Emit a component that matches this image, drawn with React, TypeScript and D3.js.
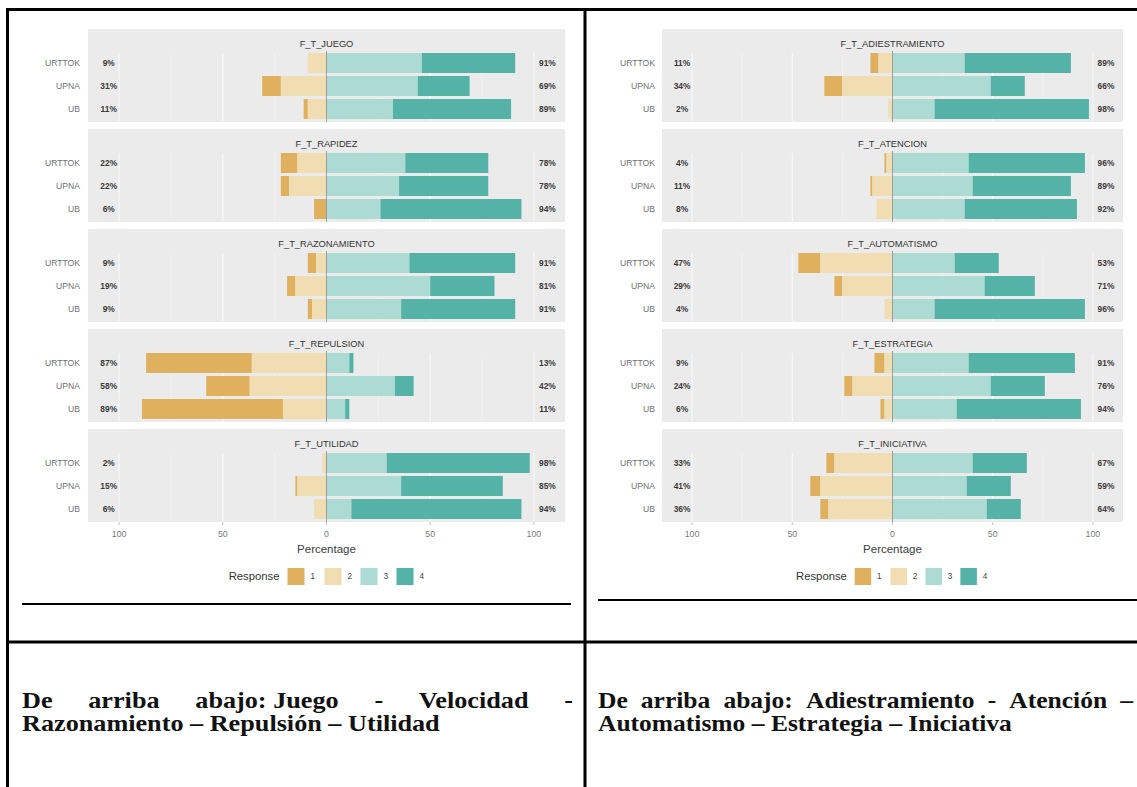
import React, { useEffect, useRef } from "react";
import * as d3 from "d3";

// ---------- DATA ----------
const groups = ["URTTOK", "UPNA", "UB"];
const responses = ["1", "2", "3", "4"];
const responseColors = ["#DFB15F", "#F0DDB2", "#ACDBD4", "#54B2A6"];
const tickValues = [-100, -50, 0, 50, 100];
const tickLabels = ["100", "50", "0", "50", "100"];

// left table cell
const leftFacets = ["F_T_JUEGO", "F_T_RAPIDEZ", "F_T_RAZONAMIENTO", "F_T_REPULSION", "F_T_UTILIDAD"];
// each row: [resp1, resp2, resp3, resp4] for URTTOK, UPNA, UB
const fJuego = [[0, 9, 46, 45], [9, 22, 44, 25], [2, 9, 32, 57]];
const fRapidez = [[8, 14, 38, 40], [4, 18, 35, 43], [6, 0, 26, 68]];
const fRazonamiento = [[4, 5, 40, 51], [4, 15, 50, 31], [2, 7, 36, 55]];
const fRepulsion = [[51, 36, 11, 2], [21, 37, 33, 9], [68, 21, 9, 2]];
const fUtilidad = [[0, 2, 29, 69], [1, 14, 36, 49], [0, 6, 12, 82]];

// right table cell
const rightFacets = ["F_T_ADIESTRAMIENTO", "F_T_ATENCION", "F_T_AUTOMATISMO", "F_T_ESTRATEGIA", "F_T_INICIATIVA"];
const fAdiestramiento = [[4, 7, 36, 53], [9, 25, 49, 17], [0, 2, 21, 77]];
const fAtencion = [[1, 3, 38, 58], [1, 10, 40, 49], [0, 8, 36, 56]];
const fAutomatismo = [[11, 36, 31, 22], [4, 25, 46, 25], [0, 4, 21, 75]];
const fEstrategia = [[5, 4, 38, 53], [4, 20, 49, 27], [2, 4, 32, 62]];
const fIniciativa = [[4, 29, 40, 27], [5, 36, 37, 22], [4, 32, 47, 17]];

const leftValues = [fJuego, fRapidez, fRazonamiento, fRepulsion, fUtilidad];
const rightValues = [fAdiestramiento, fAtencion, fAutomatismo, fEstrategia, fIniciativa];

// caption tokens (a token is kept together when justifying)
const leftCaption1 = ["De", "arriba", "abajo: Juego", "-", "Velocidad", "-"];
const leftCaption2 = "Razonamiento – Repulsión – Utilidad";
const rightCaption1 = ["De", "arriba", "abajo:", "Adiestramiento", "-", "Atención", "–"];
const rightCaption2 = "Automatismo – Estrategia – Iniciativa";

// ---------- LAYOUT ----------
const W = 1137;
const H = 787;
const SANS = "'Liberation Sans', Arial, sans-serif";
const SERIF = "'Liberation Serif', 'DejaVu Serif', serif";
const CAP_SIZE = 23;

const leftCfg = { x0: 88, x1: 565, labelEnd: 80, lineY: 604, lineX0: 22, lineX1: 571, legendScale: 1 };
const rightCfg = { x0: 662, x1: 1123, labelEnd: 655, lineY: 600, lineX0: 598, lineX1: 1137, legendScale: 0.97 };

const facetTop0 = 29;
const facetStep = 100;
const facetH = 93;
const rowOffset0 = 34;
const rowStep = 23;
const barH = 20;

function LikertChart({ cfg, facets, values }: any) {
  const x = d3.scaleLinear().domain([-115, 115]).range([cfg.x0, cfg.x1]);
  const cx = x(0);
  const rowY = d3
    .scaleOrdinal<string, number>()
    .domain(groups)
    .range(groups.map((_, i) => rowOffset0 + i * rowStep));
  const major = [-100, -50, 0, 50, 100];
  const minor = [-75, -25, 25, 75];
  const lastBottom = facetTop0 + (facets.length - 1) * facetStep + facetH;
  const ls = cfg.legendScale;
  const keyOffsets = [-39, -2, 34, 70].map((d) => d * ls);

  return (
    <g>
      {facets.map((name: string, fi: number) => {
        const top = facetTop0 + fi * facetStep;
        const data = values[fi];
        return (
          <g key={name}>
            <rect x={cfg.x0} y={top} width={cfg.x1 - cfg.x0} height={facetH} fill="#EBEBEB" />
            {minor.map((v) => (
              <line key={"mi" + v} x1={x(v)} x2={x(v)} y1={top + 24} y2={top + facetH} stroke="#F5F5F5" strokeWidth={0.6} />
            ))}
            {major.map((v) => (
              <line key={"ma" + v} x1={x(v)} x2={x(v)} y1={top + 24} y2={top + facetH} stroke="#F8F8F8" strokeWidth={1.1} />
            ))}
            <text x={cx} y={top + 17.5} textAnchor="middle" fontFamily={SANS} fontSize={9.3} fill="#333">
              {name}
            </text>
            {groups.map((g, gi) => {
              const v = data[gi];
              const yc = top + (rowY(g) as number);
              const segs = [
                { a: -(v[0] + v[1]), b: -v[1], c: 0 },
                { a: -v[1], b: 0, c: 1 },
                { a: 0, b: v[2], c: 2 },
                { a: v[2], b: v[2] + v[3], c: 3 },
              ];
              return (
                <g key={g}>
                  <text x={cfg.labelEnd} y={yc + 3} textAnchor="end" fontFamily={SANS} fontSize={8.6} fill="#6f6f6f">
                    {g}
                  </text>
                  {segs.map((s) =>
                    s.b - s.a > 0 ? (
                      <rect key={s.c} x={x(s.a)} y={yc - barH / 2} width={x(s.b) - x(s.a)} height={barH} fill={responseColors[s.c]} />
                    ) : null
                  )}
                  <text x={x(-105)} y={yc + 3} textAnchor="middle" fontFamily={SANS} fontSize={8.4} fontWeight="bold" fill="#3a3a3a">
                    {v[0] + v[1] + "%"}
                  </text>
                  <text x={x(106.5)} y={yc + 3} textAnchor="middle" fontFamily={SANS} fontSize={8.4} fontWeight="bold" fill="#3a3a3a">
                    {v[2] + v[3] + "%"}
                  </text>
                </g>
              );
            })}
            <line x1={cx} x2={cx} y1={top + 22} y2={top + facetH} stroke="#8a8a8a" strokeWidth={0.8} />
          </g>
        );
      })}
      {/* x axis */}
      {tickValues.map((t, i) => (
        <g key={"t" + i}>
          <line x1={x(t)} x2={x(t)} y1={lastBottom} y2={lastBottom + 3} stroke="#999" strokeWidth={0.6} />
          <text x={x(t)} y={lastBottom + 14.5} textAnchor="middle" fontFamily={SANS} fontSize={8.8} fill="#7a7a7a">
            {tickLabels[i]}
          </text>
        </g>
      ))}
      <text x={cx} y={lastBottom + 31} textAnchor="middle" fontFamily={SANS} fontSize={11.5} fill="#3d3d3d">
        Percentage
      </text>
      {/* legend */}
      <text x={cx - 47 * ls} y={576 + 4} textAnchor="end" fontFamily={SANS} fontSize={11.3} fill="#333">
        Response
      </text>
      {responses.map((r, i) => (
        <g key={"lg" + r}>
          <rect x={cx + keyOffsets[i]} y={568} width={17 * ls} height={17} fill={responseColors[i]} />
          <text x={cx + keyOffsets[i] + 23 * ls} y={576 + 3} textAnchor="start" fontFamily={SANS} fontSize={8.2} fill="#444">
            {r}
          </text>
        </g>
      ))}
      {/* underline */}
      <line x1={cfg.lineX0} x2={cfg.lineX1} y1={cfg.lineY} y2={cfg.lineY} stroke="#000" strokeWidth={2} />
    </g>
  );
}

// draws a two-line justified caption paragraph; the horizontal glyph scale is
// chosen so that the last (unjustified) line reaches `line2End`.
function drawCaption(g: any, tokens1: string[], line2: string, x0: number, x1: number, line2End: number, y1: number, y2: number) {
  const mk = (t: string) =>
    g
      .append("text")
      .attr("font-family", SERIF)
      .attr("font-size", CAP_SIZE)
      .attr("font-weight", "bold")
      .attr("fill", "#111")
      .text(t);
  const l2 = mk(line2);
  const w2 = (l2.node() as SVGTextElement).getComputedTextLength();
  const s = (line2End - x0) / w2;
  l2.attr("transform", `translate(${x0},${y2}) scale(${s},1)`);

  const nodes = tokens1.map((t) => mk(t));
  const widths = nodes.map((n: any) => (n.node() as SVGTextElement).getComputedTextLength() * s);
  const total = d3.sum(widths);
  const gap = (x1 - x0 - total) / (tokens1.length - 1);
  let cur = x0;
  nodes.forEach((n: any, i: number) => {
    n.attr("transform", `translate(${cur},${y1}) scale(${s},1)`);
    cur += widths[i] + gap;
  });
}

export default function App() {
  const capRef = useRef<SVGGElement>(null);
  useEffect(() => {
    const g = d3.select(capRef.current);
    g.selectAll("*").remove();
    drawCaption(g, leftCaption1, leftCaption2, 22, 573, 440, 708, 731);
    drawCaption(g, rightCaption1, rightCaption2, 598, 1133, 1012, 708, 731);
  }, []);

  return (
    <svg
      width={W}
      height={H}
      viewBox={`0 0 ${W} ${H}`}
      style={{ position: "absolute", left: 0, top: 0, display: "block", background: "#fff" }}
    >
      <rect x={0} y={0} width={W} height={H} fill="#fff" />
      <LikertChart cfg={leftCfg} facets={leftFacets} values={leftValues} />
      <LikertChart cfg={rightCfg} facets={rightFacets} values={rightValues} />
      {/* table borders */}
      <line x1={6} x2={W} y1={9.5} y2={9.5} stroke="#000" strokeWidth={3} />
      <line x1={7.5} x2={7.5} y1={8} y2={H} stroke="#000" strokeWidth={3} />
      <line x1={585} x2={585} y1={8} y2={H} stroke="#000" strokeWidth={3} />
      <line x1={6} x2={W} y1={642} y2={642} stroke="#000" strokeWidth={3} />
      <g ref={capRef} />
    </svg>
  );
}
